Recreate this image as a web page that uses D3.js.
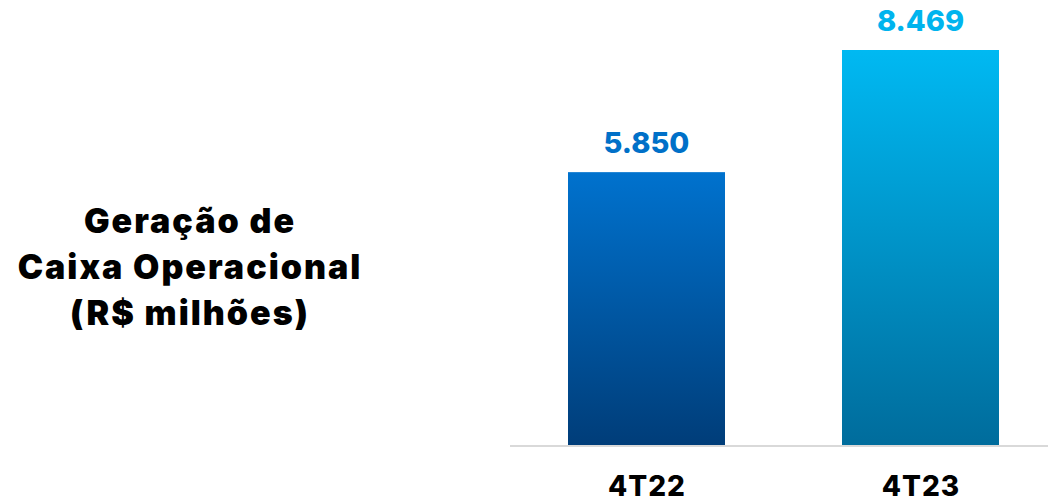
<!DOCTYPE html>
<html><head><meta charset="utf-8">
<script src="https://cdn.jsdelivr.net/npm/d3@7"></script>
<style>body{margin:0;background:#fff}svg{display:block}</style>
</head><body>
<script>
const categories = ["4T22", "4T23"];
const values = [5850, 8469];
const valueLabels = ["5.850", "8.469"];
const titleLines = ["Geração de", "Caixa Operacional", "(R$ milhões)"];
const topColors = ["#0072CE", "#00B9F2"];
const bottomColors = ["#003D79", "#006C9C"];
const labelColors = ["#0070C8", "#00B4EE"];

const W = 1048, H = 503;
const svg = d3.select("body").append("svg").attr("width", W).attr("height", H);
const font = "Inter, 'Liberation Sans', Arial, sans-serif";

const x = d3.scalePoint().domain(categories).range([646.5, 920.5]);
const y = d3.scaleLinear().domain([0, 8469]).range([445, 50]);

const defs = svg.append("defs");
categories.forEach((c, i) => {
  const g = defs.append("linearGradient").attr("id", "g" + i)
    .attr("x1", 0).attr("y1", 0).attr("x2", 0).attr("y2", 1);
  g.append("stop").attr("offset", "0%").attr("stop-color", topColors[i]);
  g.append("stop").attr("offset", "100%").attr("stop-color", bottomColors[i]);
});

svg.append("line").attr("x1", 510).attr("x2", W).attr("y1", 446).attr("y2", 446)
  .attr("stroke", "#d9d9d9").attr("stroke-width", 2);

const bw = 157;

svg.selectAll("rect.bar").data(categories).join("rect").attr("class", "bar")
  .attr("x", c => x(c) - bw / 2).attr("width", bw)
  .attr("y", (c, i) => y(values[i])).attr("height", (c, i) => y(0) - y(values[i]))
  .attr("fill", (c, i) => `url(#g${i})`);

svg.selectAll("text.val").data(categories).join("text").attr("class", "val")
  .attr("x", x).attr("y", (c, i) => y(values[i]) - 19)
  .attr("text-anchor", "middle").attr("font-family", font).attr("font-weight", 800)
  .attr("font-size", 29).attr("fill", (c, i) => labelColors[i])
  .text((c, i) => valueLabels[i]);

svg.selectAll("text.cat").data(categories).join("text").attr("class", "cat")
  .attr("x", c => x(c) + 0.5).attr("y", 496)
  .attr("text-anchor", "middle").attr("font-family", font).attr("font-weight", 800)
  .attr("font-size", 28).attr("letter-spacing", 1).attr("fill", "#000").text(c => c);

svg.append("g").selectAll("text").data(titleLines).join("text")
  .attr("x", 190).attr("y", (d, i) => 233 + i * 46)
  .attr("text-anchor", "middle").attr("font-family", font).attr("font-weight", 900)
  .attr("font-size", 34).attr("letter-spacing", 2).attr("fill", "#000").text(d => d);
</script>
</body></html>
